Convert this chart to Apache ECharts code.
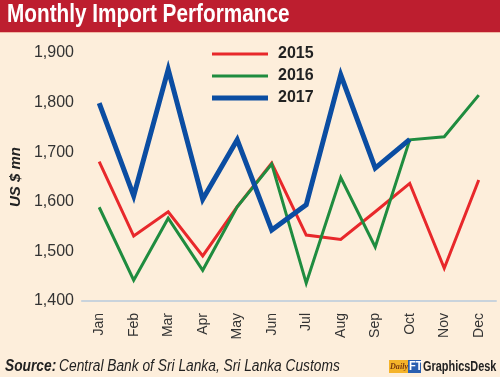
<!DOCTYPE html>
<html>
<head>
<meta charset="utf-8">
<script src="https://cdn.jsdelivr.net/npm/echarts@6/dist/echarts.min.js"></script>
<style>
    html, body { margin: 0; padding: 0; background: #fdeedb; }
    #chart { width: 500px; height: 377px; }
</style>
</head>
<body>
<div id="chart"></div>
<script>
const months = ['Jan', 'Feb', 'Mar', 'Apr', 'May', 'Jun', 'Jul', 'Aug', 'Sep', 'Oct', 'Nov', 'Dec'];
const yearNames = ['2015', '2016', '2017'];
const imports2015 = [1681, 1531, 1580, 1491, 1590, 1678, 1533, 1524, 1580, 1637, 1466, 1644];
const imports2016 = [1589, 1442, 1567, 1462, 1590, 1676, 1436, 1649, 1509, 1725, 1731, 1815];
const imports2017 = [1799, 1612, 1867, 1605, 1725, 1543, 1594, 1856, 1668, 1726];
const yTicks = { min: 1400, max: 1900, step: 100 };

const colors = ['#e8282b', '#1f8c3f', '#0b4da2'];
const widths = [3, 3, 5];
const sans = '"Liberation Sans", Arial, sans-serif';

document.addEventListener('DOMContentLoaded', function() {
    const chart = echarts.init(document.getElementById('chart'), null, { renderer: 'canvas' });
    const seriesData = [imports2015, imports2016, imports2017];
    const legendTops = [41, 63, 85];

    const option = {
        backgroundColor: '#fdeedb',
        animation: false,
        grid: { left: 76, right: 4, top: 53, bottom: 76 },
        legend: yearNames.map((name, i) => ({
            data: [name],
            left: 207,
            top: legendTops[i],
            icon: 'rect',
            itemWidth: 56,
            itemHeight: widths[i],
            itemGap: 0,
            textStyle: { fontFamily: sans, fontWeight: 'bold', fontSize: 16, color: '#222', padding: [0, 0, 0, 5] }
        })),
        xAxis: {
            type: 'category',
            data: months,
            boundaryGap: true,
            axisLine: { lineStyle: { color: '#c9d3dc', width: 2 } },
            axisTick: { show: false },
            axisLabel: {
                rotate: 90,
                margin: 12,
                fontFamily: sans,
                fontSize: 14,
                color: '#333'
            }
        },
        yAxis: {
            type: 'value',
            min: yTicks.min,
            max: yTicks.max,
            interval: yTicks.step,
            name: 'US $ mn',
            nameLocation: 'middle',
            nameGap: 56,
            nameTextStyle: { fontFamily: sans, fontWeight: 'bold', fontStyle: 'italic', fontSize: 15, color: '#222' },
            splitLine: { show: false },
            axisLine: { show: false },
            axisTick: { show: false },
            axisLabel: {
                margin: 8,
                fontFamily: sans,
                fontSize: 16,
                color: '#333',
                formatter: v => v.toLocaleString('en-US')
            }
        },
        series: yearNames.map((name, i) => ({
            name: name,
            type: 'line',
            data: seriesData[i],
            symbol: 'none',
            z: i === 2 ? 3 : 2,
            lineStyle: { color: colors[i], width: widths[i], join: 'miter' },
            itemStyle: { color: colors[i] }
        })),
        graphic: [
            { type: 'rect', left: 0, top: 0, shape: { width: 500, height: 32 }, style: { fill: '#bd1e2f' } },
            { type: 'rect', left: 0, top: 32, shape: { width: 500, height: 1 }, style: { fill: '#f1b7a3' } },
            {
                type: 'text', x: 7, y: 3, scaleX: 0.83,
                style: { text: 'Monthly Import Performance', fill: '#fff', font: 'bold 25px ' + sans }
            },
            {
                type: 'text', x: 5, y: 359, scaleX: 0.86,
                style: {
                    text: '{b|Source:} {i|Central Bank of Sri Lanka, Sri Lanka Customs}',
                    rich: {
                        b: { font: 'italic bold 16px ' + sans, fill: '#222' },
                        i: { font: 'italic 16px ' + sans, fill: '#222' }
                    }
                }
            },
            { type: 'rect', left: 389, top: 360, shape: { width: 19, height: 13 }, style: { fill: '#f5b329' } },
            { type: 'text', x: 390, y: 362, scaleX: 0.9, style: { text: 'Daily', fill: '#7a3a10', font: 'italic bold 9px "Liberation Serif", serif' } },
            { type: 'rect', left: 408, top: 360, shape: { width: 13, height: 13 }, style: { fill: '#2a5fb0' } },
            { type: 'text', x: 409, y: 360, scaleX: 0.85, style: { text: 'FT', fill: '#fff', font: 'bold 13px ' + sans } },
            { type: 'text', x: 423, y: 360, scaleX: 0.78, style: { text: 'GraphicsDesk', fill: '#222', font: 'bold 14px ' + sans } }
        ]
    };

    chart.setOption(option);
});
</script>
</body>
</html>
